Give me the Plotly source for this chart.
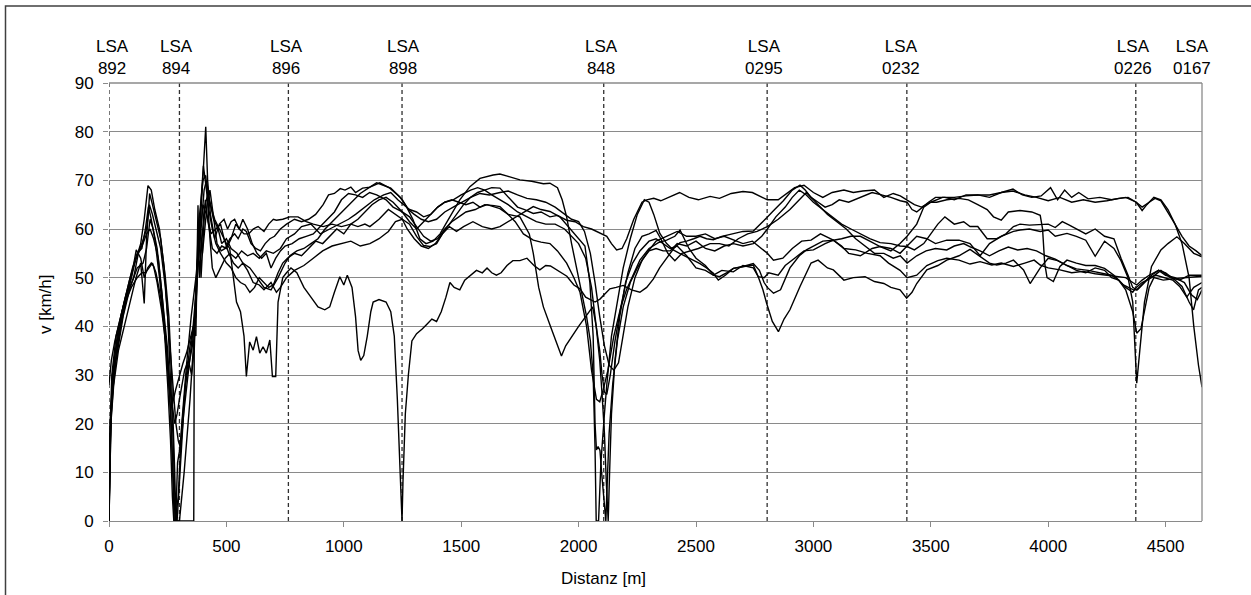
import plotly.graph_objects as go

# Signal positions along the route (m) and their labels
lsa_pos = [0, 300, 764, 1248, 2107, 2803, 3398, 4373, 4655]
lsa_names = ["892", "894", "896", "898", "848", "0295", "0232", "0226", "0167"]
lsa_dashed = [True, True, True, True, True, True, True, True, False]

x_ticks = [0, 500, 1000, 1500, 2000, 2500, 3000, 3500, 4000, 4500]
y_ticks = [0, 10, 20, 30, 40, 50, 60, 70, 80, 90]

# Speed profiles of the individual runs: (distance m, speed km/h)
run_1 = [(0,0),(4,15),(12,25),(30,33),(60,42),(90,48),(120,52),(145,53),(160,56),(175,62),(188,60),(205,56),(225,47),(245,35),(262,22),(275,8),(282,0),(295,5),(310,20),(330,32),(350,42),(370,50),(385,58),(400,65),(415,63),(435,59),(455,60),(475,61),(490,58),(500,57),(514,56),(530,50),(543,45),(560,43),(575,38),(585,29.7),(599,36.8),(614,35.1),(628,37.9),(642,34.5),(656,35.8),(670,34.5),(685,37.2),(696,29.7),(710,29.7),(720,45),(740,50),(756,51),(775,52),(800,51),(830,48),(860,46),(890,44),(919,43.4),(940,44),(960,47),(983,50.2),(1000,48.5),(1015,50.5),(1035,48),(1050,42),(1061,35),(1072,33),(1085,34),(1100,38),(1115,43),(1125,45),(1150,45.5),(1180,45),(1200,43),(1215,38),(1228,25),(1240,12),(1248,0),(1252,8),(1262,22),(1275,30),(1290,37),(1310,38.5),(1335,39.5),(1355,40.5),(1375,41.5),(1395,41),(1415,43),(1435,46),(1452,49),(1470,48),(1494,47.5),(1515,49.5),(1540,50.5),(1565,51.5),(1590,51),(1610,52),(1630,51),(1650,50.5),(1670,51),(1695,52.5),(1720,53.5),(1750,53.5),(1780,54),(1810,52.5),(1835,51.6),(1860,52.5),(1880,52.4),(1910,51.5),(1950,50.3),(1980,48.5),(2006,47.7),(2030,46),(2048,45.6),(2070,45),(2091,45.6),(2110,46.5),(2133,47.7),(2160,48),(2190,48.4),(2225,47.5),(2261,47),(2290,48),(2318,49.7),(2345,52),(2375,54),(2405,56),(2432,57.2),(2460,57.5),(2490,58),(2517,58.5),(2545,58),(2574,57.8),(2610,58.5),(2659,59),(2700,59.5),(2744,59.6),(2775,61),(2801,62.3),(2835,64),(2872,65.8),(2910,68),(2943,69),(2965,68),(2990,66.5),(3020,65.5),(3050,64.5),(3080,65),(3110,66),(3150,65.5),(3200,66.5),(3250,67.5),(3290,67),(3330,66.5),(3370,65.8),(3399,65.5),(3420,64),(3440,63.5),(3465,64.5),(3490,65.5),(3520,66.5),(3560,66.5),(3600,66),(3650,67),(3700,67),(3750,66.5),(3800,67.5),(3850,67.8),(3900,67),(3950,66.5),(4000,65.8),(4050,66.5),(4100,65.5),(4150,66),(4200,65.5),(4250,65.8),(4300,66.3),(4340,66.5),(4375,65.5),(4400,64.5),(4430,65.5),(4455,66.3),(4480,65.8),(4510,63.5),(4540,61),(4570,58.5),(4600,56.5),(4630,55.5),(4655,54.5)]

run_2 = [(0,0),(3,12),(10,22),(25,32),(50,40),(80,47),(110,53),(135,57),(150,62),(166,68.9),(180,68),(195,64),(215,60),(235,52),(250,42),(262,30),(272,18),(280,6),(288,0),(300,0),(320,10),(345,25),(365,40),(385,58),(400,72),(412,81),(420,70),(432,63),(450,58),(470,61),(490,62),(505,60),(520,61.5),(535,62),(555,60),(575,59),(595,59),(614,60),(635,60.5),(660,59.5),(680,61),(700,62),(713,61.8),(740,62),(770,62.5),(805,62.5),(840,61.5),(870,61),(912,60.5),(950,61),(990,60.5),(1030,61),(1060,60.5),(1090,61),(1111,60.5),(1150,62),(1190,64),(1220,63),(1249,62),(1270,60),(1300,58),(1330,56.5),(1360,56),(1390,57),(1420,59),(1450,61),(1480,63),(1510,65),(1540,66.5),(1570,67.5),(1600,68),(1630,68.5),(1665,68.4),(1700,66.5),(1740,64.5),(1770,64),(1807,63.2),(1840,63.5),(1878,62.5),(1910,62.8),(1949,61.8),(1985,61.5),(2020,60.5),(2055,60),(2091,59.1),(2120,58.5),(2140,57),(2162,55.7),(2185,56),(2205,58),(2235,62),(2270,65.5),(2290,66),(2320,66.3),(2350,65.8),(2380,66.5),(2430,67.5),(2470,66.5),(2510,66),(2560,66.7),(2600,66.3),(2650,67.3),(2700,67.7),(2740,67.5),(2780,66.5),(2804,66),(2850,66),(2880,67),(2920,68.5),(2960,69),(3000,67.5),(3040,66.5),(3080,67.5),(3130,68),(3170,67.5),(3210,67.8),(3260,68),(3300,66.5),(3340,67.3),(3370,66.8),(3399,66),(3430,65),(3460,64.5),(3500,65.5),(3550,66.5),(3600,66.5),(3650,66.8),(3700,67),(3750,67),(3800,67.5),(3850,68.2),(3890,67),(3930,66.5),(3970,66.8),(4010,68.5),(4040,66),(4070,68),(4100,66.5),(4130,67.5),(4170,66.2),(4220,66.5),(4270,66),(4330,66.5),(4375,65.5),(4400,63.8),(4420,65),(4450,66.5),(4480,66),(4510,64),(4540,61),(4570,57),(4600,50),(4620,40),(4640,32),(4655,27.5)]

run_3 = [(0,0),(5,20),(15,28),(35,36),(60,44),(90,50),(115,54),(140,57),(160,60),(172,65),(185,63),(200,60),(220,56),(240,48),(255,38),(270,28),(285,20),(295,16.5),(305,15),(318,22),(335,30),(355,38),(372,48),(385,56),(395,63),(405,68),(415,70),(428,66),(445,62),(465,60),(480,57),(500,58),(520,56),(545,55),(570,53),(600,52),(630,50),(660,48),(690,47.5),(720,50),(750,53),(770,54.5),(800,55.5),(830,56),(860,57),(890,58),(920,60),(950,61.5),(980,63),(1010,64.5),(1040,66),(1070,67.3),(1111,68.6),(1153,69.5),(1196,68.4),(1239,66.6),(1267,64.6),(1295,61.9),(1324,58),(1350,57),(1380,57.5),(1410,59),(1440,61.5),(1466,63.6),(1494,66),(1537,68.7),(1580,70.4),(1636,71.1),(1665,71.3),(1700,70.8),(1750,70.1),(1800,69.8),(1850,69.3),(1878,69.4),(1910,68.5),(1930,66),(1949,62.5),(1970,57),(1991,52),(2010,47),(2034,42),(2050,37),(2062,30),(2070,15),(2075,0),(2085,0),(2095,12),(2110,22),(2120,28),(2140,38),(2165,45),(2190,52),(2220,58),(2250,63),(2280,66),(2300,65.5),(2320,63),(2346,59.1),(2375,57),(2403,55.7),(2430,55),(2460,54.3),(2490,53.5),(2517,52.9),(2545,52),(2574,50.9),(2595,49.5),(2625,50.5),(2659,51.9),(2700,52.3),(2744,52.6),(2765,50.2),(2785,47.5),(2801,44.7),(2825,41),(2851,38.9),(2875,41.5),(2900,43.4),(2943,48.2),(2990,53),(3020,53.6),(3060,52),(3085,51.6),(3130,49.5),(3170,50),(3220,50.2),(3260,49.2),(3300,48.8),(3330,48),(3369,47.5),(3397,45.8),(3420,47),(3440,48.8),(3483,51.6),(3530,52.5),(3568,53.6),(3620,54.5),(3667,55.8),(3710,54.4),(3750,53),(3781,52.6),(3820,53),(3852,53.6),(3895,51.6),(3923,48.8),(3950,51),(3966,52),(4000,54),(4040,53.5),(4080,52.5),(4120,51.5),(4160,51),(4200,52),(4240,51.5),(4270,50),(4300,49.5),(4330,48),(4360,47),(4375,48),(4400,49),(4440,50),(4480,51.5),(4520,50),(4560,49.5),(4600,50.5),(4655,50.5)]

run_4 = [(0,0),(4,18),(12,30),(30,38),(55,43),(80,47),(105,50),(125,55),(145,57),(160,59),(175,60),(190,58),(210,54),(230,45),(250,35),(265,20),(272,8),(278,0),(300,0),(330,0),(355,0),(361,0),(363,35),(370,45),(380,60),(390,65),(400,70),(412,71),(425,64),(440,60),(455,57),(475,55),(500,53),(520,52),(540,50),(560,49),(580,48.5),(600,47),(620,48),(640,50),(660,49),(680,48),(700,48.5),(720,51),(740,53),(760,54),(790,55),(820,54.5),(850,56),(880,57.5),(910,57),(940,58.5),(970,60),(1000,59),(1030,61),(1060,62),(1090,63.5),(1120,65),(1150,66),(1180,66.5),(1210,65.5),(1249,63.5),(1280,61.5),(1310,60),(1340,61.5),(1370,63),(1400,64.5),(1430,65.5),(1460,66),(1490,65.5),(1520,65),(1550,65.5),(1580,64.5),(1610,65),(1640,64.5),(1665,64.2),(1700,63),(1750,62.5),(1790,59),(1807,55),(1830,48),(1850,44),(1880,40),(1910,36),(1927,33.9),(1945,36),(1965,37.5),(2000,40),(2030,42),(2060,44),(2075,40),(2090,35),(2100,30),(2110,26.5),(2120,26),(2135,30),(2155,37),(2180,44),(2210,51),(2240,56),(2270,58.5),(2300,59),(2330,59.7),(2350,58),(2380,55),(2410,53.5),(2440,55),(2480,55.5),(2510,56),(2560,57),(2600,57),(2640,56.5),(2680,58),(2720,59),(2760,59.5),(2804,60.5),(2850,62),(2900,64),(2940,66),(2970,67.5),(3000,66),(3030,64.5),(3060,63),(3100,61.5),(3140,60),(3180,58),(3220,56.5),(3260,55),(3300,55),(3340,54),(3370,54.5),(3399,53),(3440,54.5),(3480,55.5),(3520,56),(3568,55.7),(3600,56.5),(3640,57),(3670,56.3),(3710,55.5),(3750,54.5),(3790,55.5),(3830,56.3),(3870,55.7),(3910,56),(3950,55.5),(3990,54.5),(4030,53.8),(4080,52.5),(4120,51.8),(4170,51.5),(4220,51),(4270,50.5),(4300,49.5),(4330,47.5),(4360,43),(4377,38.6),(4395,39.5),(4410,43),(4430,48),(4450,50),(4490,49.5),(4540,49.8),(4590,50),(4655,50.3)]

run_5 = [(0,28),(10,33),(25,37),(45,41),(70,46),(95,50),(116,55.7),(135,54),(150,50),(165,52),(180,53),(190,52.3),(205,49),(225,43),(245,35),(258,27),(270,24),(284,27),(300,30),(315,32.4),(330,34.5),(344,37),(358,40),(370,42),(378,55),(385,62),(392,50),(400,58),(410,66),(420,62),(440,56),(460,55),(480,56.5),(500,56),(520,58),(540,61),(555,60),(570,62),(590,60),(610,57),(630,55),(650,54),(670,55),(690,52),(710,54),(730,55.5),(750,56.5),(780,57),(810,58),(840,58.5),(870,59),(900,60.5),(930,62),(960,63.5),(990,66),(1020,67.3),(1050,67),(1080,66.5),(1110,67.5),(1140,67),(1180,66),(1210,64.5),(1249,63.5),(1280,62.5),(1310,60.5),(1340,58.5),(1370,57.5),(1400,58),(1430,60),(1460,61.5),(1490,62.5),(1520,63.5),(1560,64),(1600,65),(1640,64.8),(1665,64.6),(1700,63),(1730,61.5),(1765,59),(1807,57.7),(1840,57.3),(1878,57),(1910,55.5),(1949,53),(1980,50),(2006,47),(2034,40),(2055,31),(2076,25),(2090,24.5),(2105,27),(2125,31),(2150,38),(2180,44),(2204,47.5),(2235,51),(2261,53.6),(2300,56),(2340,57.2),(2375,57.7),(2410,58.5),(2432,59.8),(2450,58),(2470,56),(2500,54),(2540,52.5),(2574,50.5),(2600,50.2),(2630,51),(2659,51.9),(2700,52.3),(2744,52.9),(2770,51.5),(2790,49),(2804,48),(2830,46.8),(2860,47.5),(2900,52),(2940,54.5),(2970,55.7),(3000,56.5),(3040,57.5),(3085,57.7),(3120,56.5),(3150,55),(3200,54.5),(3250,56),(3284,56.4),(3330,55.5),(3369,57),(3399,58.5),(3440,61),(3470,64.5),(3500,65.5),(3525,65.5),(3568,66),(3620,66.3),(3660,66),(3700,65),(3740,64),(3767,62.5),(3800,61.8),(3830,63.5),(3880,63.8),(3930,63.5),(3966,62.8),(3976,60),(3985,53),(3995,50),(4010,49.5),(4022,49.2),(4050,52.3),(4080,53.6),(4120,53),(4160,52.5),(4200,52.5),(4240,51.9),(4280,50.5),(4320,48.5),(4363,47.5),(4380,47.5),(4410,49),(4440,50.5),(4470,51.5),(4500,51),(4540,49.5),(4570,48.2),(4600,45),(4619,43.4),(4640,47.5),(4655,48)]

run_6 = [(0,0),(3,10),(8,20),(20,28),(40,35),(65,40),(90,45),(115,50),(135,53),(150,44.7),(160,58),(173,67.3),(185,65),(200,62),(220,58),(240,50),(255,42),(265,32),(272,22),(280,10),(284,0),(292,12),(301,14.6),(315,22),(330,30),(345,36),(360,40),(370,38),(379,64.9),(385,50),(395,58),(405,64),(420,67),(435,64.5),(450,62),(470,60),(490,58),(510,55),(530,53),(550,52),(570,53),(590,51.5),(614,49),(640,48.5),(660,47.5),(690,49),(713,47),(730,48),(756,50),(790,51.5),(830,52.5),(870,54),(910,55.5),(950,56.5),(990,57),(1030,57.5),(1070,56.5),(1111,57),(1150,58),(1190,59.5),(1220,61.5),(1249,62),(1280,61),(1310,58.5),(1340,56.6),(1366,56.4),(1395,57),(1420,59),(1450,60.5),(1480,59.5),(1510,60.5),(1550,61.5),(1590,60.5),(1630,60),(1665,60.5),(1700,61.5),(1736,62.5),(1770,63.5),(1807,64.6),(1840,64),(1878,63.6),(1920,62.5),(1963,60),(1992,58.5),(2027,56.5),(2048,49),(2062,38),(2070,20),(2076,14.6),(2083,15.3),(2091,14.5),(2098,10),(2108,4),(2116,0),(2122,8),(2130,18),(2145,28),(2165,37),(2190,44),(2220,49),(2250,52),(2290,55),(2330,57.5),(2375,58.5),(2420,59.5),(2460,58.5),(2500,58.5),(2540,59),(2580,58),(2620,58.5),(2660,57.7),(2700,57),(2740,57.5),(2780,56),(2804,55),(2830,53.6),(2870,54),(2910,56),(2950,57.5),(2990,57.7),(3030,59),(3085,57.7),(3130,56),(3180,55.7),(3230,55),(3284,54.5),(3320,53),(3369,51.5),(3399,50),(3440,50.5),(3483,52.5),(3530,53.5),(3568,54),(3620,53.6),(3667,52.8),(3710,53.3),(3760,52.6),(3800,53),(3852,52.3),(3900,53),(3940,53.6),(3966,52.6),(4000,52),(4050,51.6),(4100,51),(4150,51.3),(4200,50.8),(4250,50.5),(4290,50.2),(4330,50),(4360,49),(4377,48.5),(4400,49.5),(4430,50.5),(4470,51.5),(4500,50.5),(4540,50),(4580,49),(4610,46.5),(4635,45.5),(4655,47.5)]

run_7 = [(0,0),(2,8),(6,20),(15,30),(35,38),(55,43),(80,48),(100,52),(120,55),(140,56),(155,60),(168,64.6),(180,62),(195,58),(215,50),(235,40),(250,28),(262,16.6),(270,5),(276,0),(290,0),(300,8),(312,20),(325,28),(340,32),(355,36),(365,42),(375,52),(385,60),(395,68),(402,73),(410,70),(420,66),(430,58),(440,52),(455,50),(475,52),(495,54),(515,55),(540,54),(565,55.5),(590,54.5),(614,55),(640,54),(670,55.5),(700,55),(730,56),(756,58),(790,59),(820,60.5),(860,61),(900,59),(940,60),(980,61),(1020,62),(1050,63),(1090,64.5),(1130,66),(1170,67),(1200,67.5),(1230,66),(1249,65.2),(1280,64),(1310,63.5),(1340,62.5),(1370,63),(1400,64.5),(1430,65.5),(1466,66),(1500,67),(1540,68),(1570,68.5),(1600,68),(1630,67),(1665,66),(1700,65),(1740,63.5),(1780,62.5),(1820,61.5),(1860,61),(1900,61),(1940,60),(1970,58.5),(2000,57),(2030,54),(2055,48),(2075,40),(2090,33),(2100,26),(2110,18),(2118,8),(2126,0),(2132,10),(2140,22),(2155,33),(2175,42),(2200,49),(2230,53),(2261,55.5),(2300,57.5),(2330,58),(2360,57),(2390,56),(2420,56.5),(2460,54.5),(2500,52),(2540,51.5),(2574,50.5),(2610,51.5),(2659,51.2),(2700,52.5),(2744,52),(2765,50.2),(2790,50),(2810,51),(2850,50.5),(2880,52.5),(2920,54),(2960,55.5),(3000,55.7),(3050,57),(3085,57.7),(3120,58),(3160,58.5),(3200,58.5),(3240,57.5),(3284,56.4),(3330,56),(3369,55),(3399,56.5),(3440,58.5),(3483,58),(3520,57),(3568,57.7),(3620,57.7),(3667,57),(3710,54.5),(3750,57),(3800,58.5),(3852,59.5),(3880,59.8),(3920,60),(3966,59.5),(4000,59.8),(4030,58.5),(4080,59.1),(4120,58.5),(4160,57.7),(4200,54.4),(4240,57.5),(4280,56),(4310,53.5),(4340,50),(4360,45),(4377,28.3),(4390,35),(4410,45),(4440,52.3),(4480,55.7),(4510,57),(4548,58.4),(4580,57),(4620,55),(4655,54.3)]

run_8 = [(0,0),(4,14),(10,24),(25,34),(45,40),(70,45),(95,48),(120,50),(140,51),(155,51),(170,52),(185,53),(200,51),(220,46),(240,38),(255,30),(268,24),(280,20),(290,22),(300,25),(310,28),(322,31),(338,33),(352,30),(362,35),(370,48),(380,56),(390,60),(398,55),(408,60),(418,65),(430,68),(445,62),(460,57),(478,55.5),(495,56),(515,58),(535,59),(550,58),(570,60),(585,59.5),(605,57),(625,56),(645,55.5),(665,57),(685,58),(705,58.5),(730,60),(756,61),(790,62),(820,61.5),(850,62),(880,63),(912,65),(935,67),(960,67.3),(985,68.3),(1005,68),(1030,68.6),(1050,67.5),(1080,68.4),(1111,68.6),(1140,69.5),(1170,69),(1200,68.4),(1230,67),(1249,66),(1275,64),(1300,63),(1330,62),(1360,61.5),(1395,62),(1430,63.5),(1466,64.5),(1500,65.5),(1540,66.5),(1580,67.3),(1620,67),(1665,67.5),(1700,67.8),(1740,67),(1780,66.3),(1820,66),(1860,65.5),(1900,64.5),(1940,63),(1970,62),(2000,61.5),(2025,59.5),(2050,55),(2070,49),(2090,42),(2110,36),(2130,32),(2150,31),(2170,32.5),(2190,38),(2210,44),(2240,50),(2270,53.6),(2300,55.5),(2330,56),(2360,55.5),(2390,55.5),(2420,57),(2460,56.5),(2500,57.5),(2540,56),(2580,55.5),(2620,56.5),(2660,57),(2700,56.5),(2744,57),(2780,58.5),(2804,60),(2840,62.5),(2880,64.5),(2910,66.5),(2940,68),(2970,67),(3000,65.5),(3040,64),(3080,62.5),(3120,61),(3160,60),(3200,59),(3240,58),(3284,57.2),(3330,57),(3369,56.5),(3399,56.4),(3430,55.7),(3470,57),(3500,59),(3530,61),(3560,62.5),(3600,61),(3640,61.5),(3667,60.5),(3700,60.5),(3740,58),(3781,58),(3820,59),(3852,60.5),(3880,61),(3920,60.8),(3966,61),(4000,61),(4030,60.3),(4060,61.5),(4090,60.8),(4120,60),(4160,59),(4200,60),(4240,58.5),(4280,58),(4310,54),(4340,50.5),(4360,48),(4377,47.5),(4400,48.5),(4430,50),(4460,50.5),(4500,50),(4530,49.5),(4560,48.2),(4590,46),(4620,48),(4655,49)]

runs = [run_1, run_2, run_3, run_4, run_5, run_6, run_7, run_8]

# ---- layout constants (pixels of the page) ----
W, H = 1251, 595
ML, MR, MT, MB = 109, 49, 83, 74
PW, PH = W - ML - MR, H - MT - MB
FONT = "Liberation Sans, Arial, Helvetica, sans-serif"
GRID = "#8a8a8a"


def px_x(p):
    return (p - ML) / PW


def px_y(p):
    return (H - MB - p) / PH


fig = go.Figure()

for run in runs:
    fig.add_trace(go.Scatter(
        x=[p[0] for p in run],
        y=[p[1] for p in run],
        mode="lines",
        line=dict(color="#000000", width=1.4),
        showlegend=False,
        hoverinfo="skip",
    ))

shapes = []
# dashed signal markers
for pos, dashed in zip(lsa_pos, lsa_dashed):
    if dashed:
        shapes.append(dict(type="line", xref="x", yref="y", x0=pos, x1=pos, y0=0, y1=90,
                           line=dict(color="#303030", width=1.3, dash="4px,3px"), layer="below"))
# right border and top edge of plot area
shapes.append(dict(type="line", xref="paper", yref="paper", x0=1, x1=1, y0=0, y1=1,
                   line=dict(color=GRID, width=1.3)))
shapes.append(dict(type="line", xref="paper", yref="paper", x0=0, x1=1, y0=1, y1=1,
                   line=dict(color=GRID, width=1.3)))
# outer frame
shapes.append(dict(type="rect", xref="paper", yref="paper",
                   x0=px_x(5.5), x1=px_x(1260), y0=px_y(610), y1=px_y(6),
                   line=dict(color="#404040", width=1.5), fillcolor="rgba(0,0,0,0)"))

# label centres are nudged slightly against the marker lines
label_shift = [17, -13, -9, 7, -11, -12, -25, -14, -41]
annotations = []
for pos, name, dx in zip(lsa_pos, lsa_names, label_shift):
    annotations.append(dict(
        x=pos + dx, y=px_y(57.5), xref="x", yref="paper",
        text="LSA<br>" + name, showarrow=False,
        xanchor="center", yanchor="middle", align="center",
        font=dict(family=FONT, size=17, color="#000000"),
    ))
annotations.append(dict(
    x=px_x(603.5), y=px_y(578), xref="paper", yref="paper",
    text="Distanz [m]", showarrow=False, xanchor="center", yanchor="middle",
    font=dict(family=FONT, size=17, color="#000000"),
))
annotations.append(dict(
    x=px_x(45), y=px_y(304), xref="paper", yref="paper",
    text="v [km/h]", showarrow=False, xanchor="center", yanchor="middle",
    textangle=-90, font=dict(family=FONT, size=17, color="#000000"),
))

fig.update_layout(
    width=W, height=H,
    margin=dict(l=ML, r=MR, t=MT, b=MB, pad=0),
    paper_bgcolor="#ffffff", plot_bgcolor="#ffffff",
    shapes=shapes, annotations=annotations,
    showlegend=False,
    font=dict(family=FONT, size=17, color="#000000"),
    xaxis=dict(
        range=[0, 4655], tickvals=x_ticks, ticktext=[str(v) for v in x_ticks],
        showgrid=False, zeroline=False,
        showline=True, linecolor=GRID, linewidth=1.3,
        ticks="outside", ticklen=5, tickcolor=GRID, tickwidth=1.3,
        tickfont=dict(family=FONT, size=17, color="#000000"),
        ticklabelstandoff=4,
    ),
    yaxis=dict(
        range=[0, 90], tickvals=y_ticks, ticktext=[str(v) for v in y_ticks],
        showgrid=True, gridcolor=GRID, gridwidth=1.3, zeroline=False,
        showline=False,
        ticks="outside", ticklen=5, tickcolor=GRID, tickwidth=1.3,
        tickfont=dict(family=FONT, size=17, color="#000000"),
        ticklabelstandoff=6,
    ),
)

fig.write_html("out.html")
